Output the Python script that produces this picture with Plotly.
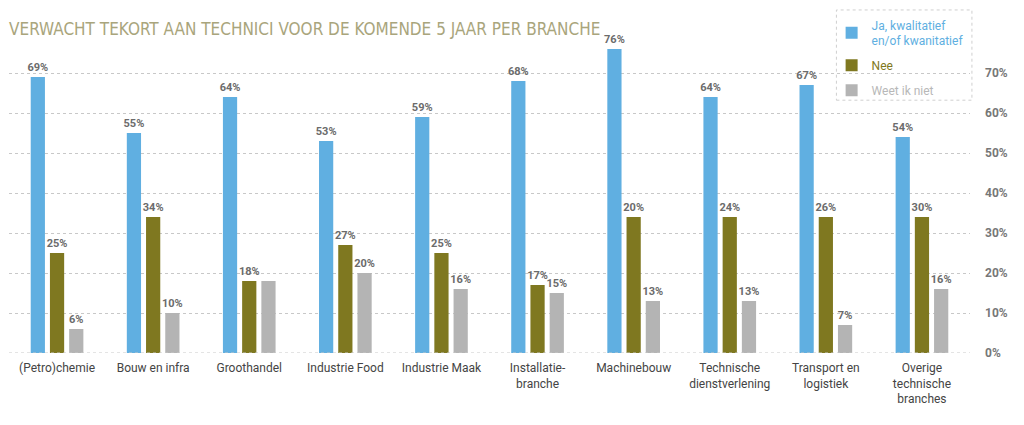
import plotly.graph_objects as go

categories = ["(Petro)chemie", "Bouw en infra", "Groothandel", "Industrie Food", "Industrie Maak",
              "Installatie-<br>branche", "Machinebouw", "Technische<br>dienstverlening",
              "Transport en<br>logistiek", "Overige<br>technische<br>branches"]

ja_values = [69, 55, 64, 53, 59, 68, 76, 64, 67, 54]
ja_labels = ["69%", "55%", "64%", "53%", "59%", "68%", "76%", "64%", "67%", "54%"]

# bar heights as drawn in the picture; labels as printed
nee_values = [25, 34, 18, 27, 25, 17, 34, 34, 34, 34]
nee_labels = ["25%", "34%", "18%", "27%", "25%", "17%", "20%", "24%", "26%", "30%"]

weet_values = [6, 10, 18, 20, 16, 15, 13, 13, 7, 16]
weet_labels = ["6%", "10%", "", "20%", "16%", "15%", "13%", "13%", "7%", "16%"]

y_ticks = [0, 10, 20, 30, 40, 50, 60, 70]
y_tick_labels = ["0%", "10%", "20%", "30%", "40%", "50%", "60%", "70%"]

BLUE = "#60afe1"
OLIVE = "#7f7820"
GRAY = "#b4b4b4"
LABEL = "#6b6b6b"
FONT = "Roboto, sans-serif"

fig = go.Figure()
for i, (vals, labs, col, name) in enumerate([
    (ja_values, ja_labels, BLUE, f'<span style="color:{BLUE}">Ja, kwalitatief<br>en/of kwanitatief</span>'),
    (nee_values, nee_labels, OLIVE, f'<span style="color:{OLIVE}">Nee</span>'),
    (weet_values, weet_labels, GRAY, f'<span style="color:#b8b8b8">Weet ik niet</span>'),
]):
    fig.add_trace(go.Bar(
        x=categories, y=vals, name=name, legendgroup=f"g{i}",
        marker=dict(color=col, line=dict(width=0)),
        text=labs, textposition="outside", constraintext="none", cliponaxis=False,
        textfont=dict(family=FONT, size=11, color=LABEL, weight="bold"),
        hoverinfo="skip",
    ))

fig.update_layout(
    width=1016, height=417,
    margin=dict(l=1, r=54, t=25, b=72, autoexpand=False),
    paper_bgcolor="white", plot_bgcolor="white",
    barmode="group", bargap=0.4, bargroupgap=0.26,
    title=dict(text="VERWACHT TEKORT AAN TECHNICI VOOR DE KOMENDE 5 JAAR PER BRANCHE",
               x=0.001, xanchor="left", y=0.95, yanchor="middle",
               font=dict(family="DejaVu Sans Condensed, sans-serif", size=17, color="#a9a57c")),
    legend=dict(x=0.856, xanchor="left", y=1.07, yanchor="top", bgcolor="rgba(255,255,255,0)",
                font=dict(family=FONT, size=12), tracegroupgap=6, itemwidth=30),
    showlegend=True,
    font=dict(family=FONT),
)
fig.update_xaxes(showgrid=False, showline=False, ticks="", tickfont=dict(family=FONT, size=12, color="#444444"),
                 range=[-0.5, 9.5], ticklabelstandoff=6)
fig.update_yaxes(side="right", range=[0, 80], tickvals=y_ticks, ticktext=y_tick_labels,
                 showgrid=True, gridcolor="#c8c8c8", griddash="dot", gridwidth=1,
                 zeroline=False, showline=False, ticklabelstandoff=14,
                 tickfont=dict(family=FONT, size=12, color="#777777", weight="bold"))
fig.add_shape(type="line", xref="paper", yref="y", x0=0, x1=1, y0=0, y1=0,
              line=dict(color="#c8c8c8", width=1, dash="dot"))
fig.add_shape(type="rect", xref="paper", yref="paper", x0=0.861, x1=1.002, y0=0.79, y1=1.072,
              line=dict(color="#cfcfcf", width=1, dash="dot"), fillcolor="rgba(0,0,0,0)")

fig.write_html("out.html")
